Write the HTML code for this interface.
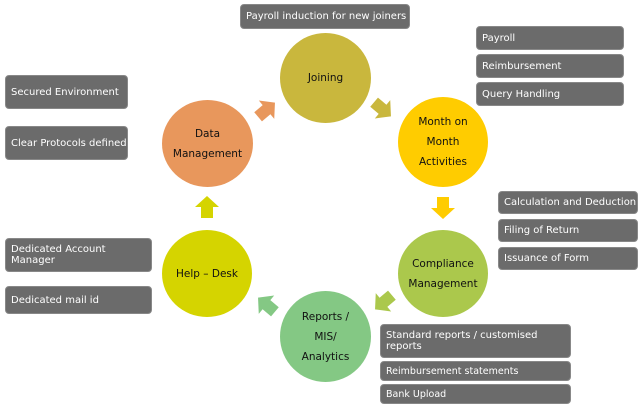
<!DOCTYPE html>
<html><head><style>
body{margin:0;width:644px;height:408px;background:#fff;position:relative;overflow:hidden;font-family:"DejaVu Sans","Liberation Sans",sans-serif}
.b{position:absolute;background:#6b6b6b;color:#fff;border-radius:4px;font-size:10px;display:flex;align-items:center;padding-left:5px;box-sizing:border-box;border:1px solid #888}
.c{position:absolute;border-radius:50%;display:flex;align-items:center;justify-content:center;text-align:center;font-size:10.5px;color:#111;line-height:20px}
</style></head><body>
<div class="c" style="left:280px;top:33px;width:91px;height:90px;background:#c9b73d">Joining</div>
<div class="c" style="left:398px;top:97px;width:90px;height:90px;background:#ffcc00">Month on<br>Month<br>Activities</div>
<div class="c" style="left:162px;top:100px;width:91px;height:87px;background:#e8975c">Data<br>Management</div>
<div class="c" style="left:162px;top:230px;width:90px;height:87px;background:#d5d400">Help – Desk</div>
<div class="c" style="left:398px;top:230px;width:90px;height:87px;background:#abc84c">Compliance<br>Management</div>
<div class="c" style="left:280px;top:291px;width:91px;height:91px;background:#84c884">Reports /<br>MIS/<br>Analytics</div>
<svg width="644" height="408" style="position:absolute;left:0;top:0">
<defs><polygon id="a" points="-9,-6 2,-6 2,-12 13,0 2,12 2,6 -9,6"/></defs>
<use href="#a" fill="#e8975c" transform="translate(265,111) rotate(-40)"/>
<use href="#a" fill="#c9b73d" transform="translate(381,108) rotate(40)"/>
<use href="#a" fill="#ffcc00" transform="translate(443,206) rotate(90)"/>
<use href="#a" fill="#abc84c" transform="translate(385,301) rotate(140)"/>
<use href="#a" fill="#84c884" transform="translate(268,306) rotate(-140)"/>
<use href="#a" fill="#d5d400" transform="translate(207,209) rotate(-90)"/>
</svg>
<div class="b" style="left:240px;top:4px;width:170px;height:25px">Payroll induction for new joiners</div>
<div class="b" style="left:476px;top:26px;width:148px;height:24px">Payroll</div>
<div class="b" style="left:476px;top:54px;width:148px;height:24px">Reimbursement</div>
<div class="b" style="left:476px;top:82px;width:148px;height:24px">Query Handling</div>
<div class="b" style="left:5px;top:75px;width:123px;height:34px">Secured Environment</div>
<div class="b" style="left:5px;top:126px;width:123px;height:34px">Clear Protocols defined</div>
<div class="b" style="left:5px;top:238px;width:147px;height:34px">Dedicated Account Manager</div>
<div class="b" style="left:5px;top:286px;width:147px;height:28px">Dedicated mail id</div>
<div class="b" style="left:498px;top:191px;width:140px;height:23px">Calculation and Deduction</div>
<div class="b" style="left:498px;top:219px;width:140px;height:23px">Filing of Return</div>
<div class="b" style="left:498px;top:247px;width:140px;height:23px">Issuance of Form</div>
<div class="b" style="left:380px;top:324px;width:191px;height:34px">Standard reports / customised reports</div>
<div class="b" style="left:380px;top:361px;width:191px;height:20px;font-size:9.5px">Reimbursement statements</div>
<div class="b" style="left:380px;top:384px;width:191px;height:20px;font-size:9.5px">Bank Upload</div>
</body></html>
